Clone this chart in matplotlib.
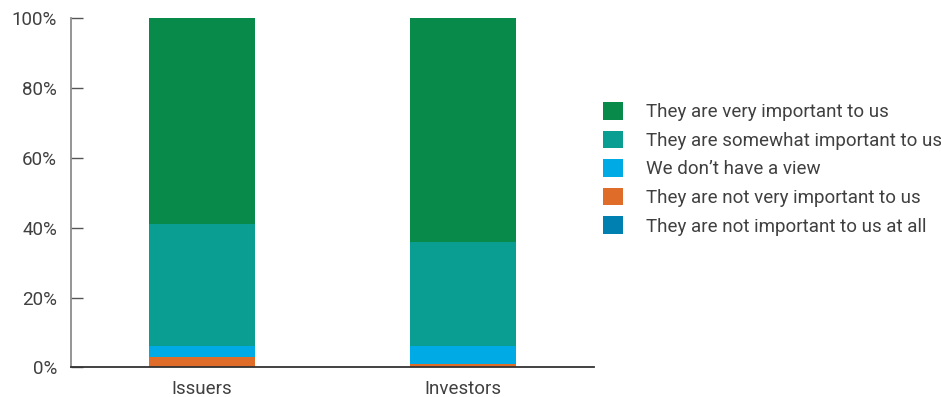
import numpy as np
import matplotlib.pyplot as plt
from matplotlib.patches import Patch

plt.rcParams['font.family'] = ['Roboto', 'DejaVu Sans']

groups = ['Issuers', 'Investors']
answers = [
    'They are not important to us at all',
    'They are not very important to us',
    'We don\u2019t have a view',
    'They are somewhat important to us',
    'They are very important to us',
]
# share of respondents, %, bottom to top
not_at_all = [0.0, 0.0]
not_very = [3.0, 1.0]
no_view = [3.1, 5.1]
somewhat = [35.0, 29.8]
very = [59.4, 64.2]

colours = ['#0080B0', '#E06C2A', '#00AAE4', '#0A9E93', '#088B4A']
series = [not_at_all, not_very, no_view, somewhat, very]
text_col = '#404040'

fig = plt.figure(figsize=(9.41, 3.97), dpi=100)
ax = fig.add_axes([0.0755, 0.0748, 0.5557, 0.8791])

x = np.arange(len(groups))
bottom = np.zeros(len(groups))
for vals, col in zip(series, colours):
    ax.bar(x, vals, width=0.405, bottom=bottom, color=col, linewidth=0)
    bottom += np.array(vals)

ax.set_xlim(-0.5, 1.5)
ax.set_ylim(0, 100)
ax.set_yticks([0, 20, 40, 60, 80, 100])
ax.set_yticklabels(['0%', '20%', '40%', '60%', '80%', '100%'])
ax.set_xticks(x)
ax.set_xticklabels(groups)

for s in ['top', 'right']:
    ax.spines[s].set_visible(False)
ax.spines['left'].set_color('#8c8c8c')
ax.spines['left'].set_linewidth(1.3)
ax.spines['bottom'].set_color('#333333')
ax.spines['bottom'].set_linewidth(1.3)

ax.tick_params(axis='y', direction='in', length=8.6, width=1.0, color='#555555',
               labelsize=13.5, labelcolor=text_col, pad=10)
ax.tick_params(axis='x', length=0, labelsize=13.5, labelcolor=text_col, pad=9)

handles = [Patch(facecolor=c, edgecolor='none') for c in colours[::-1]]
leg = ax.legend(handles, answers[::-1], loc='upper left',
                frameon=False, fontsize=13.5, handlelength=1.07, handleheight=1.07,
                handletextpad=1.23, labelspacing=0.5, borderaxespad=0.0,
                borderpad=0.0)
for t in leg.get_texts():
    t.set_color(text_col)
leg.set_bbox_to_anchor((603 / 941, 1 - 102 / 397), transform=fig.transFigure)

fig.savefig('out.png', dpi=100)
